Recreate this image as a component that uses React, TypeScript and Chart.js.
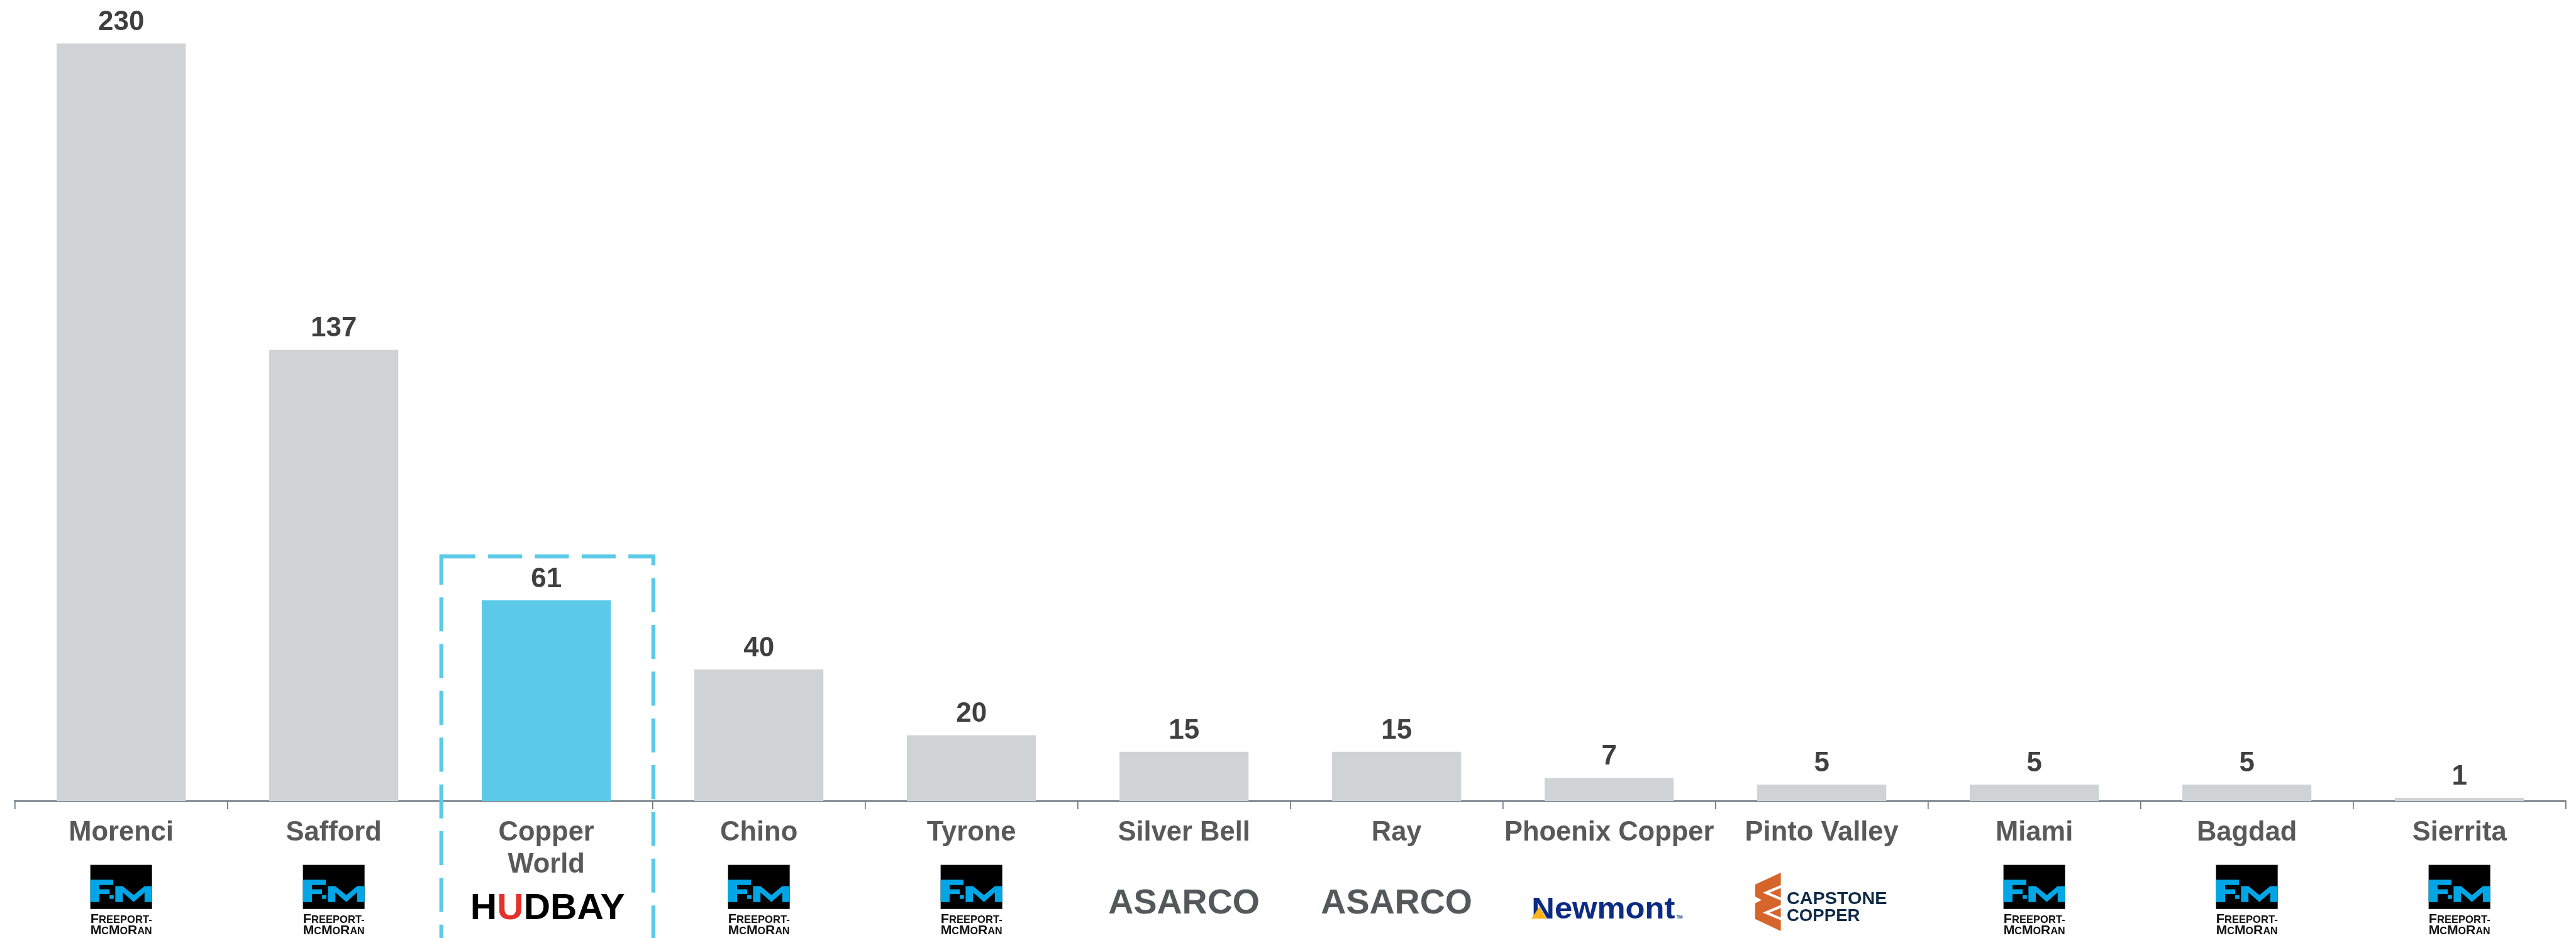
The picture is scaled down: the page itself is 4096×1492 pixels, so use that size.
import React, { useEffect, useRef } from 'react';
import { Chart, registerables } from 'chart.js';

Chart.register(...registerables);

// ---------- data ----------
const categories: (string | string[])[] = [
  'Morenci', 'Safford', ['Copper', 'World'], 'Chino', 'Tyrone', 'Silver Bell',
  'Ray', 'Phoenix Copper', 'Pinto Valley', 'Miami', 'Bagdad', 'Sierrita',
];
const values = [230, 137, 61, 40, 20, 15, 15, 7, 5, 5, 5, 1];
const operators = [
  'fcx', 'fcx', 'hudbay', 'fcx', 'fcx', 'asarco',
  'asarco', 'newmont', 'capstone', 'fcx', 'fcx', 'fcx',
];
const highlightIndex = 2;
const yMax = 240;

// ---------- styles ----------
const W = 4096;
const H = 1492;
const S = 0.845;
const FONT = "'Liberation Sans', Arial, Helvetica, sans-serif";
const GREY = '#CFD3D4';
const BLUE = '#5BC9E8';
const AXIS = '#6D7780';

type Seg = { t: string; font: string; color: string };

function drawSegments(ctx: CanvasRenderingContext2D, segs: Seg[], cx: number, baseline: number, width: number) {
  let total = 0;
  const ws = segs.map((s) => {
    ctx.font = s.font;
    const w = ctx.measureText(s.t).width;
    total += w;
    return w;
  });
  const k = width / total;
  ctx.save();
  ctx.translate(cx - width / 2, baseline);
  ctx.scale(k, 1);
  ctx.textAlign = 'left';
  ctx.textBaseline = 'alphabetic';
  let x = 0;
  segs.forEach((s, i) => {
    ctx.font = s.font;
    ctx.fillStyle = s.color;
    ctx.fillText(s.t, x, 0);
    x += ws[i];
  });
  ctx.restore();
}

function poly(ctx: CanvasRenderingContext2D, pts: number[][], fill: boolean) {
  ctx.beginPath();
  pts.forEach(([x, y], i) => (i === 0 ? ctx.moveTo(x, y) : ctx.lineTo(x, y)));
  if (fill) {
    ctx.closePath();
    ctx.fill();
  } else {
    ctx.stroke();
  }
}

function drawFCX(ctx: CanvasRenderingContext2D, cx: number, y0: number) {
  const w = 116 * S;
  const h = 83 * S;
  const left = cx - w / 2;
  const top = y0 + 120 * S;
  ctx.fillStyle = '#000000';
  ctx.fillRect(left, top, w, h);
  const R = (x: number, y: number, ww: number, hh: number) => ctx.fillRect(left + x * S, top + y * S, ww * S, hh * S);
  ctx.fillStyle = '#00A6E6';
  R(0, 28, 17, 42);
  R(17, 28, 26, 10);
  R(17, 46, 19, 9);
  R(36, 57, 8, 7);
  const ox = 47, oy = 40, mw = 69, mh = 30, t = 14;
  const m = [
    [0, 0], [t, 0], [mw / 2, 17], [mw - t, 0], [mw, 0], [mw, mh], [mw - t, mh],
    [mw - t, 12], [mw / 2, mh], [t, 12], [t, mh], [0, mh],
  ].map(([x, y]) => [left + (ox + x) * S, top + (oy + y) * S]);
  poly(ctx, m, true);
  const big = `bold ${25 * S}px ${FONT}`;
  const small = `bold ${19 * S}px ${FONT}`;
  drawSegments(ctx, [
    { t: 'F', font: big, color: '#111' },
    { t: 'REEPORT-', font: small, color: '#111' },
  ], cx, y0 + 229 * S, w);
  drawSegments(ctx, [
    { t: 'M', font: big, color: '#111' },
    { t: 'C', font: small, color: '#111' },
    { t: 'M', font: big, color: '#111' },
    { t: 'O', font: small, color: '#111' },
    { t: 'R', font: big, color: '#111' },
    { t: 'AN', font: small, color: '#111' },
  ], cx, y0 + 250 * S, w);
}

function drawHudbay(ctx: CanvasRenderingContext2D, cx: number, y0: number) {
  const f = `bold ${68 * S}px ${FONT}`;
  drawSegments(ctx, [
    { t: 'H', font: f, color: '#000' },
    { t: 'U', font: f, color: '#E4312B' },
    { t: 'DBAY', font: f, color: '#000' },
  ], cx + 2.5 * S, y0 + 222 * S, 291 * S);
}

function drawAsarco(ctx: CanvasRenderingContext2D, cx: number, y0: number) {
  drawSegments(ctx, [{ t: 'ASARCO', font: `bold ${65 * S}px ${FONT}`, color: '#53585A' }], cx, y0 + 211 * S, 285 * S);
}

function drawNewmont(ctx: CanvasRenderingContext2D, cx: number, y0: number) {
  drawSegments(ctx, [{ t: 'Newmont', font: `bold ${57 * S}px ${FONT}`, color: '#0C2B84' }], cx - 11 * S, y0 + 221 * S, 270 * S);
  ctx.fillStyle = '#FDB415';
  poly(ctx, [[-146.3, 221.3], [-118, 221.3], [-131.3, 198.7]].map(([x, y]) => [cx + x * S, y0 + y * S]), true);
  ctx.font = `bold ${8 * S}px ${FONT}`;
  ctx.fillStyle = '#0C2B84';
  ctx.textAlign = 'left';
  ctx.textBaseline = 'alphabetic';
  ctx.fillText('TM', cx + 127 * S, y0 + 221 * S);
}

function drawCapstone(ctx: CanvasRenderingContext2D, cx: number, y0: number) {
  const P = (pts: number[][]) => pts.map(([x, y]) => [cx + x * S, y0 + y * S]);
  ctx.fillStyle = '#D5652B';
  poly(ctx, P([[-77, 134.7], [-125.3, 157], [-125.3, 222], [-77, 244.7]]), true);
  ctx.strokeStyle = '#FFFFFF';
  ctx.lineWidth = 5 * S;
  ctx.lineJoin = 'miter';
  poly(ctx, P([[-76, 160.3], [-104.7, 172.5], [-76, 184.7]]), false);
  poly(ctx, P([[-76, 198], [-104.7, 210], [-76, 222]]), false);
  ctx.fillStyle = '#FFFFFF';
  poly(ctx, P([[-126, 179.3], [-113, 186], [-126, 192.7]]), true);
  const f = `bold ${33.5 * S}px ${FONT}`;
  drawSegments(ctx, [{ t: 'CAPSTONE', font: f, color: '#0F2A47' }], cx + (-66 + 189 / 2) * S, y0 + 194 * S, 189 * S);
  drawSegments(ctx, [{ t: 'COPPER', font: f, color: '#0F2A47' }], cx + (-66 + 138 / 2) * S, y0 + 226 * S, 138 * S);
}

const valueLabelPlugin = {
  id: 'valueLabels',
  afterDatasetsDraw(chart: any) {
    const ctx: CanvasRenderingContext2D = chart.ctx;
    const meta = chart.getDatasetMeta(0);
    ctx.save();
    ctx.font = `bold ${52 * S}px ${FONT}`;
    ctx.fillStyle = '#404040';
    ctx.textAlign = 'center';
    ctx.textBaseline = 'alphabetic';
    meta.data.forEach((el: any, i: number) => {
      ctx.fillText(String(values[i]), el.x, el.y - 25 * S);
    });
    ctx.restore();
  },
};

const decorPlugin = {
  id: 'decor',
  afterDraw(chart: any) {
    const ctx: CanvasRenderingContext2D = chart.ctx;
    const xs = chart.scales.x;
    const ys = chart.scales.y;
    const y0 = xs.top;
    const cw = xs.width / categories.length;
    ctx.save();
    operators.forEach((op, i) => {
      const cx = xs.getPixelForValue(i);
      if (op === 'fcx') drawFCX(ctx, cx, y0);
      else if (op === 'hudbay') drawHudbay(ctx, cx, y0);
      else if (op === 'asarco') drawAsarco(ctx, cx, y0);
      else if (op === 'newmont') drawNewmont(ctx, cx, y0);
      else if (op === 'capstone') drawCapstone(ctx, cx, y0);
    });
    ctx.restore();

    // dashed highlight frame
    const hc = xs.getPixelForValue(highlightIndex);
    const left = hc - cw / 2 + 2.5 * S;
    const right = hc + cw / 2 + 1.5 * S;
    const top = ys.getPixelForValue(values[highlightIndex]) - 82.5 * S;
    const bottom = chart.height + 20;
    const lw = 7.5 * S;
    ctx.save();
    ctx.strokeStyle = BLUE;
    ctx.lineWidth = lw;
    ctx.lineCap = 'butt';
    ctx.lineJoin = 'miter';
    ctx.setLineDash([64 * S, 24 * S]);
    ctx.beginPath();
    ctx.moveTo(left, top);
    ctx.lineTo(right, top);
    ctx.lineTo(right, bottom);
    ctx.stroke();
    ctx.lineDashOffset = 7 * S;
    ctx.beginPath();
    ctx.moveTo(left, top - lw / 2);
    ctx.lineTo(left, bottom);
    ctx.stroke();
    ctx.restore();
  },
};

export default function App() {
  const ref = useRef<HTMLCanvasElement>(null);
  useEffect(() => {
    const canvas = ref.current;
    if (!canvas) return;
    const axisY = 1508 * S;
    const chart = new Chart(canvas, {
      type: 'bar',
      data: {
        labels: categories as any,
        datasets: [
          {
            data: values,
            backgroundColor: values.map((_, i) => (i === highlightIndex ? BLUE : GREY)),
            borderWidth: 0,
            barPercentage: 0.607,
            categoryPercentage: 1,
          },
        ],
      },
      options: {
        animation: false,
        responsive: false,
        devicePixelRatio: 1,
        layout: {
          padding: { left: 28 * S, right: W - 4828 * S, top: axisY - yMax * ((1508 - 82) * S / 230), bottom: 0 },
        },
        plugins: {
          legend: { display: false },
          tooltip: { enabled: false },
        },
        scales: {
          x: {
            z: 1,
            grid: {
              display: true,
              drawOnChartArea: false,
              drawTicks: true,
              tickLength: 15 * S,
              color: AXIS,
              lineWidth: 2 * S,
              offset: true,
            },
            border: { display: true, color: AXIS, width: 3 * S },
            ticks: {
              autoSkip: false,
              maxRotation: 0,
              minRotation: 0,
              padding: 12.6,
              color: '#595959',
              font: { family: FONT, size: 51.5 * S, weight: 'bold', lineHeight: 1.165 },
            },
            afterFit: (scale: any) => {
              scale.height = H - axisY;
            },
          },
          y: { display: false, min: 0, max: yMax },
        },
      },
      plugins: [valueLabelPlugin, decorPlugin],
    } as any);
    return () => chart.destroy();
  }, []);
  return (
    <div style={{ position: 'absolute', left: 0, top: 0, width: W, height: H, background: '#ffffff', overflow: 'hidden' }}>
      <canvas ref={ref} width={W} height={H} style={{ display: 'block', width: W, height: H }} />
    </div>
  );
}
